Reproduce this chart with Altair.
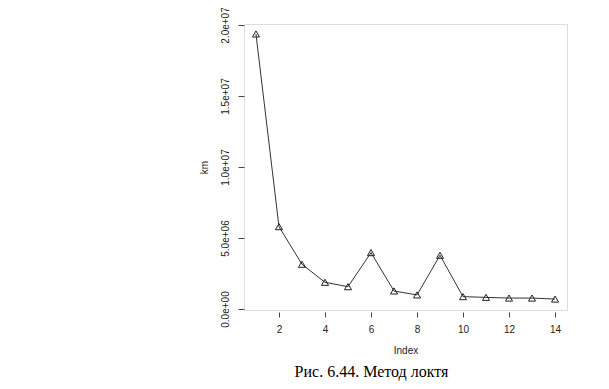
import altair as alt
import pandas as pd

index = list(range(1, 15))
km = [19370000, 5800000, 3150000, 1880000, 1570000, 3970000, 1270000,
      990000, 3780000, 870000, 820000, 770000, 770000, 700000]
x_ticks = [2, 4, 6, 8, 10, 12, 14]
y_ticks = [0, 5000000, 10000000, 15000000, 20000000]
caption = "Рис. 6.44. Метод локтя"

df = pd.DataFrame({"Index": index, "km": km})

xs = alt.X("Index:Q", scale=alt.Scale(domain=[0.48, 14.52], nice=False, zero=False),
           axis=alt.Axis(values=x_ticks, title="Index", grid=False, domain=False,
                         offset=2, tickSize=5, tickColor="#444", labelColor="#222",
                         labelFont="Liberation Sans", labelFontSize=10,
                         titleFont="Liberation Sans", titleFontSize=10,
                         titleFontWeight="normal", titleColor="#222",
                         labelPadding=7, titlePadding=11))
ys = alt.Y("km:Q", scale=alt.Scale(domain=[-70000, 20070000], nice=False, zero=False),
           axis=alt.Axis(values=y_ticks, title="km", grid=False, domain=False,
                         tickSize=6, tickColor="#444", labelColor="#222",
                         labelExpr="replace(format(datum.value, '.1e'), 'e+', 'e+0')",
                         labelAngle=270, labelAlign="center", labelBaseline="bottom",
                         labelFont="Liberation Sans", labelFontSize=10,
                         titleFont="Liberation Sans", titleFontSize=10,
                         titleFontWeight="normal", titleColor="#222",
                         labelPadding=8, titlePadding=11))

base = alt.Chart(df).encode(x=xs, y=ys)
line = base.mark_line(color="#333", strokeWidth=1)
pts = base.mark_point(shape="triangle-up", size=50, filled=False, color="#222", strokeWidth=1, opacity=1)

chart = alt.layer(line, pts).properties(
    width=323, height=286,
    autosize=alt.AutoSizeParams(type="none"),
    padding={"left": 236, "top": 16, "right": 34, "bottom": 71},
    title=alt.TitleParams(caption, orient="bottom", anchor="middle", dx=-34, offset=9,
                          font="Liberation Serif", fontSize=16, fontWeight="normal", color="#000"),
).configure_view(stroke="#555", strokeWidth=1).configure(background="white")

chart.save("out.html", embed_options={"renderer": "svg", "actions": False})
